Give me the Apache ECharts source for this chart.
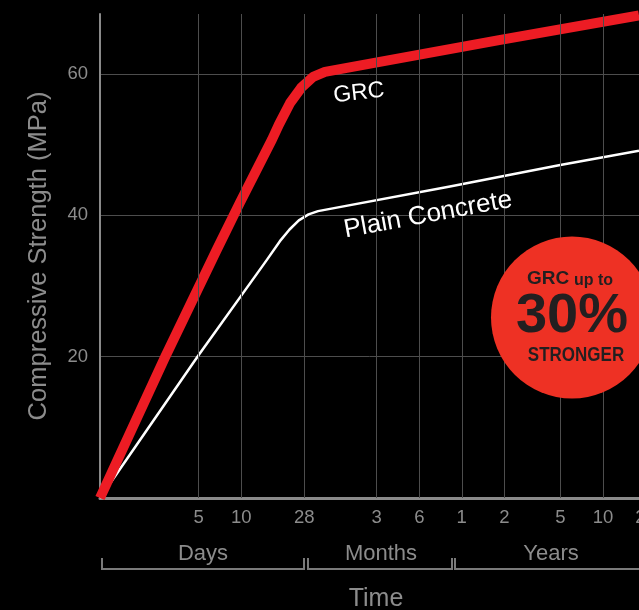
<!DOCTYPE html>
<html><head><meta charset="utf-8">
<script src="https://cdn.jsdelivr.net/npm/echarts@6/dist/echarts.min.js"></script>
<style>html,body{margin:0;padding:0;background:#000;}#c{width:639px;height:610px;}</style>
</head><body><div id="c"></div>
<script>
// X ticks (in days, log scale) and their labels
const tickDays = [5, 10, 28, 91, 183, 365, 730, 1826, 3652, 7305];
const tickLabels = ['5', '10', '28', '3', '6', '1', '2', '5', '10', '20'];
// Y ticks
const yTicks = [20, 40, 60];
// GRC series (days, MPa)
const grcDays = [1, 2.9, 6.7, 9.8, 16.5, 18.5, 22.2, 26.7, 32.3, 39.2, 670, 6570];
const grcMPa  = [0, 20, 35.1, 41.8, 50.7, 52.85, 55.9, 58.1, 59.6, 60.3, 64.8, 68.3];
// Plain concrete series (days, MPa)
const plainDays = [1, 4.9, 15.2, 18.8, 22.0, 25.6, 30.0, 35.0, 301, 1780, 6570];
const plainMPa  = [0, 20, 33.7, 36.35, 38.0, 39.3, 40.15, 40.6, 44.1, 47.1, 49.15];
// Time groups
const groups = ['Days', 'Months', 'Years'];

const FONT = '"Liberation Sans", Arial, Helvetica, sans-serif';
const GREY = '#8c8c8c';
const chart = echarts.init(document.getElementById('c'), null, {renderer: 'canvas'});

const option = {
  backgroundColor: '#000',
  animation: false,
  grid: {left: 100, right: 0, top: 14, bottom: 112},
  xAxis: {
    type: 'log', logBase: 10, min: 1, max: 6570,
    axisLine: {show: true, lineStyle: {color: '#8a8a8a', width: 3}},
    axisTick: {show: false}, axisLabel: {show: false}, splitLine: {show: false}
  },
  yAxis: {
    type: 'value', min: 0, max: 68.5, interval: 20,
    name: 'Compressive Strength (MPa)', nameLocation: 'middle', nameGap: 48,
    nameTextStyle: {color: GREY, fontSize: 25.5, fontFamily: FONT},
    axisLine: {show: true, lineStyle: {color: '#8a8a8a', width: 2}},
    axisTick: {show: false},
    axisLabel: {color: GREY, fontSize: 18.5, fontFamily: FONT, margin: 12,
      showMinLabel: false, showMaxLabel: false,
      formatter: v => yTicks.indexOf(v) >= 0 ? String(v) : ''},
    splitLine: {show: true, showMinLine: false, showMaxLine: false, lineStyle: {color: '#4d4d4d', width: 1}}
  },
  series: [
    {
      type: 'line', data: [], z: 1, silent: true,
      markLine: {
        silent: true, symbol: 'none', animation: false,
        label: {show: false},
        lineStyle: {color: '#4d4d4d', width: 1, type: 'solid'},
        emphasis: {disabled: true},
        data: tickDays.filter(d => d < 6570).map(d => ({xAxis: d}))
      }
    },
    {
      type: 'line', name: 'Plain Concrete', z: 3,
      data: plainDays.map((d, i) => [d, plainMPa[i]]),
      symbol: 'none', smooth: false,
      lineStyle: {color: '#ffffff', width: 2.5, join: 'round'}
    },
    {
      type: 'line', name: 'GRC', z: 4,
      data: grcDays.map((d, i) => [d, grcMPa[i]]),
      symbol: 'none', smooth: false,
      lineStyle: {color: '#ed1c24', width: 10, join: 'round'}
    }
  ]
};
chart.setOption(option);

const g = [];
tickDays.forEach((d, i) => {
  const x = chart.convertToPixel({xAxisIndex: 0}, d);
  g.push({type: 'text', x: x, y: 518, silent: true,
    style: {text: tickLabels[i], fill: GREY, font: '18.5px ' + FONT, align: 'center', verticalAlign: 'middle'}});
});
// group brackets
const brackets = [
  [[102, 558], [102, 569], [304, 569], [304, 558]],
  [[308, 558], [308, 569], [452, 569], [452, 558]],
  [[455, 558], [455, 569], [700, 569]]
];
brackets.forEach(p => g.push({type: 'polyline', silent: true, shape: {points: p}, style: {stroke: '#7a7a7a', lineWidth: 2, fill: null}}));
const groupX = [203, 381, 551];
groups.forEach((t, i) => g.push({type: 'text', x: groupX[i], y: 554, silent: true,
  style: {text: t, fill: GREY, font: '22px ' + FONT, align: 'center', verticalAlign: 'middle'}}));
g.push({type: 'text', x: 376, y: 599, silent: true,
  style: {text: 'Time', fill: GREY, font: '25px ' + FONT, align: 'center', verticalAlign: 'middle'}});
// series labels
g.push({type: 'text', x: 359, y: 93, rotation: 0.113, silent: true, z: 10,
  style: {text: 'GRC', fill: '#fff', font: '23px ' + FONT, align: 'center', verticalAlign: 'middle'}});
g.push({type: 'text', x: 428, y: 215, rotation: 0.183, silent: true, z: 10,
  style: {text: 'Plain Concrete', fill: '#fff', font: '26px ' + FONT, align: 'center', verticalAlign: 'middle'}});
// badge
g.push({type: 'circle', silent: true, z: 10, shape: {cx: 572, cy: 317.5, r: 81}, style: {fill: '#ee3124'}});
g.push({type: 'text', x: 569.3, y: 279.2, silent: true, z: 11,
  style: {text: 'GRC', fill: '#231f20', font: 'bold 19px ' + FONT, align: 'right', verticalAlign: 'middle'}});
g.push({type: 'text', x: 574, y: 280.4, silent: true, z: 11,
  style: {text: 'up to', fill: '#231f20', font: 'bold 16px ' + FONT, align: 'left', verticalAlign: 'middle'}});
g.push({type: 'text', x: 572, y: 317, silent: true, z: 11,
  style: {text: '30%', fill: '#231f20', font: 'bold 56px ' + FONT, align: 'center', verticalAlign: 'middle'}});
g.push({type: 'text', x: 576, y: 355.5, scaleX: 0.85, silent: true, z: 11,
  style: {text: 'STRONGER', fill: '#231f20', font: 'bold 20px ' + FONT, align: 'center', verticalAlign: 'middle'}});

chart.setOption({graphic: g});
</script>
</body></html>
